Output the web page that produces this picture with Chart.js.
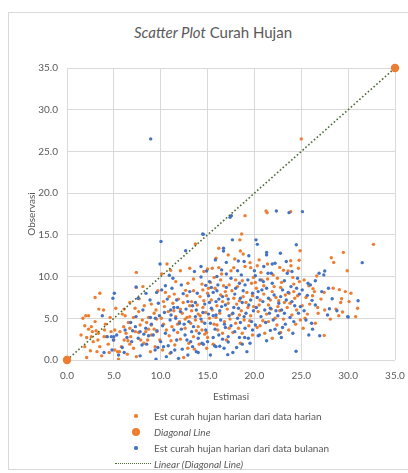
<!DOCTYPE html>
<html>
<head>
<meta charset="utf-8">
<script src="https://cdn.jsdelivr.net/npm/chart.js@4.4.0/dist/chart.umd.min.js"></script>
<style>
  body { margin: 0; background: #fff; font-family: Lato, "Open Sans", sans-serif; }
  #wrap { position: relative; width: 408px; height: 473px; overflow: hidden; }
  #frame { position: absolute; left: 8px; top: 12px; width: 410px; height: 458px; border: 1px solid #d9d9d9; box-sizing: border-box; }
  #title { position: absolute; left: 0; width: 426px; top: 23px; text-align: center; font-size: 15px; color: #595959; }
  canvas { position: absolute; left: 0; top: 0; }
  #legend { position: absolute; left: 110px; top: 408px; font-size: 10px; color: #595959; }
  .row { height: 16px; display: flex; align-items: center; }
  .mk { width: 44px; height: 16px; position: relative; }
  .mk span { position: absolute; }
</style>
</head>
<body>
<div id="wrap">
  <div id="frame"></div>
  <div id="title"><i>Scatter Plot</i> Curah Hujan</div>
  <canvas id="chart" width="408" height="473"></canvas>
  <div id="legend"></div>
</div>
<script>
// Est curah hujan harian dari data harian (orange)
const harianPts = [
  [1.7,5.0],[2.0,5.3],[2.3,5.3],[1.9,4.1],[2.6,4.0],[2.7,3.4],[3.1,3.5],[3.35,3.2],[2.1,2.7],[1.9,1.6],[2.1,0.3],
  [2.6,2.8],[3.5,1.6],[3.95,2.8],[4.2,2.8],[4.7,3.4],[5.1,3.6],[5.0,2.4],[5.1,1.2],[5.4,1.0],[5.6,1.0],
  [3.0,7.5],[3.5,8.0],[3.4,6.1],[3.9,6.0],[5.2,6.2],[2.8,2.2],[3.2,1.0],[4.4,1.9],[4.1,4.3],[1.5,3.0],
  [2.5,1.1],[3.7,0.5],[4.5,0.9],[3.0,4.6],[4.0,3.6],
  [6.1,6.1],[7.26,6.2],[6.7,6.9],[8.25,6.5],[7.65,5.8],[9.0,6.7],[7.4,10.5],[7.4,8.7],[7.7,7.35],[9.7,8.3],
  [6.1,2.4],[6.44,0.7],[6.7,1.9],[6.8,2.8],[7.65,3.3],[7.86,2.4],[8.4,3.4],[8.7,3.7],[8.6,2.4],[9.0,3.0],
  [9.3,3.7],[8.04,4.8],[8.7,5.1],[9.57,4.9],[10.07,5.0],[6.55,4.5],[6.05,4.0],[5.65,3.4],[5.8,1.6],[7.1,1.4],
  [7.4,0.4],[8.9,1.0],[9.4,1.6],[6.7,3.8],[7.3,3.4],[6.3,3.2],[7.8,4.2],[9.0,4.2],[9.6,3.4],[9.9,2.4],
  [8.2,2.0],[5.5,0.1],[8.1,8.8],[9.5,6.0],[6.2,5.3],
  [10.67,11.5],[11.06,10.75],[12.1,10.7],[13.5,9.7],[13.7,13.9],[11.45,7.9],[12.66,8.35],[13.5,8.3],[14.4,9.1],
  [14.5,8.4],[15.0,8.0],[10.3,7.0],[12.1,6.1],[13.1,6.5],[14.5,6.3],[14.0,5.5],[13.1,5.2],[12.8,5.1],[11.6,5.2],
  [15.0,10.9],[10.3,4.3],[10.6,3.6],[10.9,2.9],[11.2,4.0],[11.5,1.8],[11.8,3.3],[12.1,2.5],[12.45,0.3],[12.6,3.8],
  [12.9,1.4],[13.2,4.4],[13.5,2.8],[13.8,3.5],[14.1,1.9],[14.4,4.6],[14.7,3.1],[10.2,1.2],[11.0,0.8],[12.0,4.6],
  [13.0,2.0],[14.0,4.0],[10.8,5.8],[11.3,6.8],[11.9,7.3],[12.3,5.6],[13.3,7.0],[13.9,6.6],[14.2,7.6],[14.8,5.7],
  [10.5,8.1],[12.9,9.2],[11.6,9.4],[14.6,10.6],[13.1,11.0],[10.1,10.3],[14.9,3.3],[14.4,3.6],
  [16.2,11.07],[15.5,11.0],[17.8,11.07],[19.53,11.67],[19.0,11.2],[19.6,11.07],[18.5,13.06],[18.8,12.7],[18.64,15.1],
  [18.45,14.4],[19.0,17.3],[18.3,3.8],[17.7,3.3],[15.0,2.7],[15.3,9.3],[15.8,8.6],[16.4,9.6],[16.9,8.2],[17.3,9.0],
  [17.8,7.4],[18.2,8.8],[18.7,9.5],[19.2,8.1],[19.7,9.2],[15.4,7.2],[16.0,6.5],[16.6,7.0],[17.1,6.1],[17.6,5.5],
  [18.1,6.7],[18.6,5.9],[19.1,6.9],[19.6,5.3],[15.2,5.0],[15.7,4.3],[16.3,5.6],[16.8,4.6],[17.4,4.9],[18.0,4.4],
  [18.9,4.8],[19.4,4.1],[19.9,6.4],[16.1,3.6],[17.0,2.4],[15.6,1.9],[18.5,2.0],[19.8,3.0],[16.5,10.3],[17.5,10.7],
  [15.9,12.2],[17.2,12.6],[19.9,9.9],[16.2,13.4],[17.0,7.7],[18.4,7.1],[15.1,8.6],
  [21.24,17.86],[21.35,17.66],[23.87,17.78],[24.87,13.1],[23.87,11.9],[24.77,11.95],[21.4,11.5],[23.1,10.75],
  [23.6,10.67],[23.9,11.3],[24.7,11.0],[22.45,9.8],[20.8,9.6],[20.2,8.6],[20.6,7.2],[21.0,8.9],[21.5,6.6],[21.9,8.2],
  [22.3,7.5],[22.8,8.7],[23.2,6.9],[23.7,8.0],[24.2,9.1],[24.6,7.7],[20.4,5.8],[20.9,4.7],[21.3,5.5],[21.8,6.1],
  [22.2,5.0],[22.7,5.9],[23.1,4.9],[23.5,6.3],[24.0,5.4],[24.5,6.0],[24.9,4.8],[20.3,3.9],[21.1,3.2],[21.9,2.6],
  [23.66,3.6],[24.4,4.3],[22.4,4.2],[20.7,10.5],[22.0,10.2],[24.1,9.9],[25.0,26.5],[20.5,12.0],[22.6,7.1],[24.3,7.4],
  [25.5,7.5],[25.65,5.5],[26.5,4.4],[27.45,2.95],[26.75,6.3],[26.8,5.6],[27.5,6.0],[28.7,6.1],[29.4,5.75],[29.0,5.3],
  [30.8,5.2],[29.2,6.9],[29.3,7.35],[27.45,8.1],[28.4,8.6],[29.06,8.43],[29.7,8.2],[30.3,8.0],[26.25,8.55],[26.4,8.2],
  [26.65,10.07],[29.9,10.7],[28.2,12.26],[28.46,11.7],[29.49,12.9],[32.7,13.86],[25.3,9.6],[25.9,6.7],[27.1,7.3],
  [28.1,4.9],[30.1,7.0],[25.2,3.8],[31.0,6.2],[25.4,5.0],
  [10.4,6.4],[10.9,7.6],[11.4,5.9],[11.8,4.3],[12.4,6.9],[12.8,7.7],[13.3,5.9],[13.7,4.8],[14.2,5.3],[14.6,7.1],
  [15.5,6.0],[15.9,5.1],[16.4,7.8],[16.7,8.9],[17.2,6.8],[17.6,8.3],[18.0,9.6],[18.4,5.4],[18.8,7.6],[19.3,6.3],
  [19.8,7.7],[20.1,9.3],[20.5,6.6],[21.0,7.9],[21.4,9.7],[21.7,7.2],[22.1,8.8],[22.5,6.4],[22.9,9.3],[23.3,7.8],
  [23.8,6.8],[24.2,8.2],[24.8,9.4],[25.1,6.5],[25.8,8.9],[26.2,7.7],[16.0,4.2],[16.6,3.2],[17.3,3.8],[18.7,3.2],
  [19.5,4.7],[20.6,4.1],[21.5,4.6],[22.8,3.3],[12.6,4.9],[11.1,2.3],[13.6,1.3],[14.9,1.4],[9.3,5.6],[8.5,4.5],
  [7.1,5.1],[6.5,2.3],[5.9,5.5],[4.6,5.1],[3.3,2.4],[2.3,3.7],[17.9,12.1],[20.3,11.3],[22.7,11.1],[15.7,9.9]
];
// Est curah hujan harian dari data bulanan (blue)
const bulananPts = [
  [3.77,5.3],[4.3,2.8],[5.05,8.0],[4.9,7.4],[4.73,2.8],[5.3,3.0],[5.0,2.8],[4.95,2.4],[5.5,0.6],[3.95,0.9],[4.8,1.2],
  [5.9,1.5],[7.37,8.76],[8.43,7.99],[9.57,8.1],[7.58,7.39],[8.1,6.0],[7.37,5.2],[8.9,5.1],[9.43,5.0],[9.86,5.3],
  [6.8,4.5],[7.3,4.0],[7.8,3.4],[8.2,3.1],[8.7,2.9],[9.2,3.0],[9.6,3.5],[6.4,2.7],[6.9,2.2],[8.0,1.8],[8.5,1.9],
  [9.4,1.2],[9.7,1.5],[9.5,0.1],[7.8,0.5],[8.86,7.19],[9.75,6.8],[6.2,3.6],[8.93,26.5],
  [10.03,14.2],[9.93,11.5],[10.92,10.15],[12.66,13.1],[14.48,15.1],[14.3,11.2],[14.3,9.95],[10.1,8.4],[12.4,7.95],
  [14.8,8.95],[15.4,8.7],[10.4,5.7],[11.06,6.0],[11.4,6.3],[11.8,6.3],[12.7,6.1],[13.4,6.5],[13.7,6.9],[14.7,6.7],
  [15.2,6.9],[15.9,5.4],[15.1,5.5],[13.7,5.2],[14.5,5.7],[11.1,5.4],[10.5,8.9],[10.2,4.1],[10.5,3.2],[10.8,1.7],
  [11.1,0.9],[11.4,3.6],[11.7,2.4],[12.0,4.4],[12.3,1.3],[12.6,3.0],[12.9,0.6],[13.2,2.2],[13.5,4.0],[13.8,1.0],
  [14.1,3.2],[14.4,2.0],[14.7,4.4],[10.0,2.2],[11.0,4.8],[12.2,3.7],[13.0,4.6],[14.0,2.6],[11.9,0.2],[13.4,1.6],
  [10.6,0.4],[11.3,9.8],[12.2,9.0],[13.6,10.6],[11.7,7.2],[13.1,8.2],
  [14.55,15.06],[17.54,17.3],[17.4,17.1],[17.65,14.4],[20.17,14.4],[20.31,13.86],[16.7,13.4],[16.7,13.06],[15.83,12.0],
  [17.0,11.7],[18.28,11.87],[18.9,11.8],[14.9,10.67],[16.5,10.8],[18.2,10.7],[20.0,10.7],[20.1,10.1],[20.53,3.0],
  [20.4,2.9],[19.53,2.0],[19.35,2.6],[18.96,2.7],[18.4,2.7],[17.2,2.8],[17.2,2.16],[17.15,0.64],[16.76,1.4],[16.3,1.64],
  [15.9,1.6],[15.75,1.7],[15.6,2.7],[14.55,1.88],[15.2,9.4],[15.6,8.1],[16.1,9.0],[16.6,7.6],[17.0,8.7],[17.5,9.8],
  [17.9,7.9],[18.4,9.2],[18.8,8.3],[19.3,9.6],[19.8,8.0],[15.4,6.2],[15.9,7.0],[16.3,5.9],[16.9,6.6],[17.3,5.3],
  [17.8,6.3],[18.2,5.0],[18.7,6.9],[19.1,5.6],[19.6,7.2],[15.3,4.4],[15.8,3.7],[16.4,4.8],[16.9,3.9],[17.5,4.1],
  [17.9,3.4],[18.5,4.5],[19.0,3.8],[19.7,4.6],[16.2,3.0],[18.1,1.5],[19.2,1.0],[17.7,0.9],[15.3,0.6],[16.0,10.0],
  [18.6,10.2],[19.4,12.5],[16.2,7.3],[18.3,6.2],
  [22.34,17.86],[23.69,17.66],[25.12,17.78],[24.47,13.82],[21.3,12.9],[21.3,12.6],[22.77,12.8],[22.2,11.6],[21.8,10.4],
  [21.45,10.4],[20.6,9.6],[20.95,9.4],[23.5,10.4],[24.6,9.8],[25.72,9.2],[25.97,9.0],[20.4,8.2],[20.9,7.0],[21.3,8.6],
  [21.7,6.2],[22.1,7.8],[22.6,6.8],[23.0,8.4],[23.4,7.2],[23.9,8.8],[24.3,6.5],[24.8,7.9],[20.2,6.3],[20.7,5.2],
  [21.2,4.5],[21.6,5.6],[22.0,4.8],[22.5,5.3],[22.9,6.0],[23.3,4.3],[23.8,5.1],[24.2,4.6],[24.7,5.6],[21.7,3.55],
  [22.66,3.2],[22.87,2.7],[24.44,1.04],[20.1,4.2],[23.0,3.9],[21.0,11.2],[23.2,9.5],[24.0,10.6],
  [26.9,10.4],[27.5,10.67],[27.4,10.2],[26.15,7.15],[25.65,7.75],[27.18,8.2],[28.3,7.35],[31.06,7.1],[28.0,6.15],
  [29.95,5.2],[26.1,4.4],[26.2,3.7],[26.97,2.9],[31.5,11.67],[30.0,5.15],[25.3,5.9],[25.5,4.8],[26.5,6.6],[27.8,5.4],
  [25.1,8.4],
  [10.7,7.3],[11.2,8.6],[11.6,5.0],[12.1,5.8],[12.5,4.3],[12.9,7.0],[13.3,3.4],[13.9,8.0],[14.3,4.9],[14.8,3.6],
  [15.1,7.7],[15.6,5.3],[16.0,8.3],[16.5,6.4],[16.8,4.3],[17.2,7.3],[17.7,5.6],[18.0,8.6],[18.5,7.4],[18.9,5.2],
  [19.4,6.6],[19.9,5.9],[20.3,7.5],[20.8,8.4],[21.1,6.0],[21.5,7.4],[21.9,9.2],[22.3,5.9],[22.8,7.6],[23.2,5.6],
  [23.6,8.1],[24.0,7.0],[24.5,8.6],[24.9,6.4],[12.8,2.4],[14.0,0.9],[15.0,2.2],[16.6,2.5],[18.7,1.9],[19.8,3.6],
  [21.3,2.3],[22.2,3.7],[9.0,4.3],[8.4,3.8],[7.6,2.6],[10.3,1.6],[11.5,1.2],[13.8,6.0],[17.0,10.3],[19.0,9.0],
  [21.9,11.5],[23.4,11.8],[26.5,9.5],[27.9,8.6],[28.8,5.9],[24.1,3.2],[25.8,3.0],[6.1,0.9],[7.0,3.5]
];
const diagonalPts = [[0, 0], [35, 35]];
const axisTicks = [0, 5, 10, 15, 20, 25, 30, 35];

const orange = '#ED7D31';
const blue = '#4472C4';
const trendColor = '#4b6a33';
const toXY = arr => arr.map(p => ({ x: p[0], y: p[1] }));

const datasets = [
  {
    label: 'Est curah hujan harian dari data harian',
    data: toXY(harianPts),
    backgroundColor: orange, borderWidth: 0, pointRadius: 1.7, order: 3
  },
  {
    label: 'Diagonal Line',
    data: toXY(diagonalPts),
    backgroundColor: orange, borderWidth: 0, pointRadius: 4.2, order: 0, clip: false
  },
  {
    label: 'Est curah hujan harian dari data bulanan',
    data: toXY(bulananPts),
    backgroundColor: blue, borderWidth: 0, pointRadius: 1.7, order: 2
  },
  {
    label: 'Linear (Diagonal Line)',
    type: 'line',
    data: toXY(diagonalPts),
    borderColor: trendColor, borderWidth: 1.6, borderDash: [1.6, 2.2],
    pointRadius: 0, showLine: true, fill: false, order: 1
  }
];

const tickFont = { family: 'Lato, "Open Sans", sans-serif', size: 10 };
const gridColor = '#d9d9d9';

new Chart(document.getElementById('chart'), {
  type: 'scatter',
  data: { datasets: datasets },
  options: {
    responsive: false,
    animation: false,
    layout: { padding: { top: 68, right: 13, left: 21, bottom: 69 } },
    plugins: { legend: { display: false }, tooltip: { enabled: false } },
    scales: {
      x: {
        type: 'linear', min: 0, max: 35,
        afterBuildTicks: s => { s.ticks = axisTicks.map(v => ({ value: v })); },
        // fixed height; no extra room for the last label's overhang
        afterFit: s => { s.height = 44; s.paddingRight = 0; s.paddingLeft = 0; },
        grid: { color: gridColor, drawTicks: false },
        border: { display: false },
        ticks: { font: tickFont, color: '#595959', padding: 10, callback: v => v.toFixed(1) },
        title: { display: true, text: 'Estimasi', font: tickFont, color: '#595959', padding: { top: 4, bottom: 1 } }
      },
      y: {
        type: 'linear', min: 0, max: 35,
        afterBuildTicks: s => { s.ticks = axisTicks.map(v => ({ value: v })); },
        afterFit: s => { s.width = 46; },
        grid: { color: gridColor, drawTicks: false },
        border: { display: false },
        ticks: { font: tickFont, color: '#595959', padding: 9, callback: v => v.toFixed(1) },
        title: { display: true, text: 'Observasi', font: tickFont, color: '#595959', padding: { top: 5, bottom: 1 } }
      }
    }
  }
});

// legend below the plot, one entry per row like the original
const legend = document.getElementById('legend');
datasets.forEach(ds => {
  const row = document.createElement('div');
  row.className = 'row';
  const mk = document.createElement('div');
  mk.className = 'mk';
  const s = document.createElement('span');
  if (ds.type === 'line') {
    s.style.cssText = `left:5px;top:7px;width:36px;border-top:1.5px dotted ${trendColor};`;
  } else {
    const d = ds.pointRadius * 2;
    s.style.cssText = `left:${26 - d / 2}px;top:${8 - d / 2}px;width:${d}px;height:${d}px;border-radius:50%;background:${ds.backgroundColor};`;
  }
  mk.appendChild(s);
  const txt = document.createElement('span');
  txt.textContent = ds.label;
  if (ds.label.indexOf('Diagonal') >= 0) txt.style.fontStyle = 'italic';
  row.appendChild(mk);
  row.appendChild(txt);
  legend.appendChild(row);
});
</script>
</body>
</html>
